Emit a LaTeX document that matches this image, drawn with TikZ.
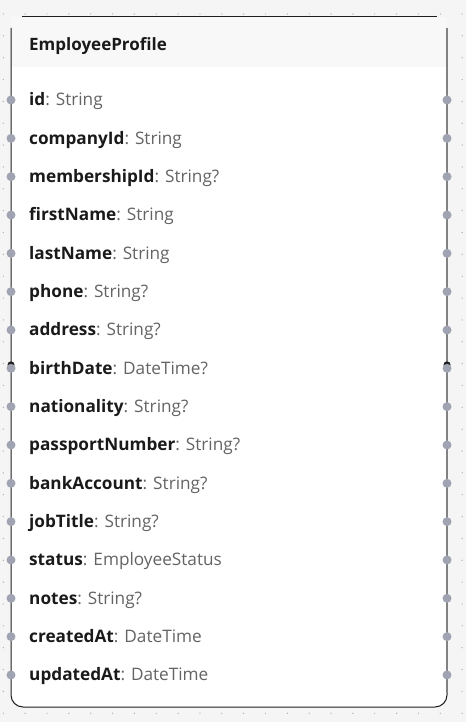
\documentclass[tikz,border=0pt]{standalone}
\usepackage{fontspec}
\setmainfont{Open Sans}
\begin{document}
\begin{tikzpicture}[x=1pt,y=-1pt,
  fname/.style={anchor=base west,inner sep=0pt,font=\fontsize{17.2}{20}\selectfont},
  port/.style={circle,fill=portgray,inner sep=0pt,minimum size=9pt},
  title/.style={anchor=base west,inner sep=0pt,font=\fontsize{17}{20}\selectfont\bfseries,text=namecol}]
\definecolor{bg}{RGB}{245,245,245}
\definecolor{hdr}{RGB}{248,248,248}
\definecolor{dotc}{RGB}{175,175,175}
\definecolor{portgray}{RGB}{160,164,178}
\definecolor{namecol}{RGB}{26,26,26}
\definecolor{typecol}{RGB}{100,100,100}
\definecolor{edge}{RGB}{30,30,30}
\definecolor{rightb}{RGB}{130,130,130}
\useasboundingbox (0,0) rectangle (466,722);
\fill[bg] (0,0) rectangle (466,722);
\foreach \i in {0,...,21}{\foreach \j in {0,...,32}{
  \fill[dotc] ({3.3+\i*21.85},{14+\j*21.85}) circle (0.7);}}
% card
\fill[white,rounded corners=12pt] (11,17) -- (11,707) -- (447,707) -- (447,17) [sharp corners] -- cycle;
\fill[hdr] (11,17) rectangle (447,67);
\draw[edge,line width=1pt] (22,17) -- (437,17);
\draw[edge,line width=1pt,rounded corners=12pt] (11,28) -- (11,707) -- (447,707) -- (447,690);
\draw[rightb,line width=2pt] (447,28) -- (447,693);
\node[title] (title) at (29,51) {EmployeeProfile};
% fields
\foreach \n/\t [count=\k from 0] in {id/String,companyId/String,membershipId/String?,firstName/String,lastName/String,phone/String?,address/String?,birthDate/DateTime?,nationality/String?,passportNumber/String?,bankAccount/String?,jobTitle/String?,status/EmployeeStatus,notes/String?,createdAt/DateTime,updatedAt/DateTime}{
  \pgfmathsetmacro\yy{100+\k*38.33}
  \node[fname] (f\k) at (29,\yy+6) {{\bfseries\color{namecol}\n}{\color{typecol}: \t}};
  \ifnum\k=7
    \fill[edge] (11,\yy-3.5) circle (3.5);
    \fill[edge] (447,\yy-3.5) circle (3.5);
  \fi
  \node[port] (l\k) at (11,\yy) {};
  \node[port] (r\k) at (447,\yy) {};
}
\end{tikzpicture}
\end{document}
